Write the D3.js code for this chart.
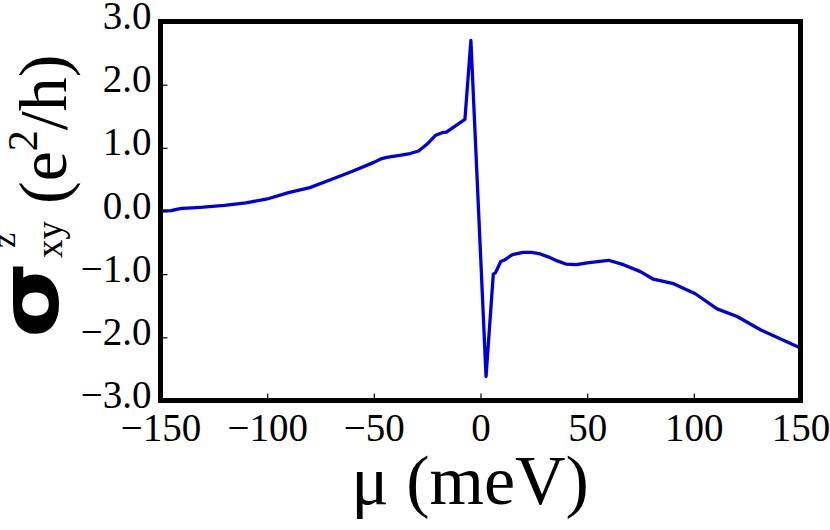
<!DOCTYPE html>
<html><head><meta charset="utf-8">
<script src="https://cdn.jsdelivr.net/npm/d3@7/dist/d3.min.js"></script>
<style>body{margin:0;background:#fff}svg{display:block}</style>
</head><body><svg id="c" width="830" height="530"></svg>
<script>
const mu = [-150,-145,-142,-140,-135,-130,-120,-110,-100,-90,-80,-70,-60,-50,-47,-44,-38,-33,-29,-25,-21,-18,-16,-7.3,-4.5,2.6,6.0,7.0,9.5,11,15,20,24,28,32,36,40,45,50,60,67,75,81,90.5,100.7,110.9,120.3,131.2,150];
const sigma = [0.00,0.005,0.03,0.04,0.05,0.06,0.09,0.13,0.19,0.29,0.37,0.50,0.63,0.77,0.82,0.85,0.88,0.91,0.95,1.06,1.20,1.24,1.25,1.45,2.70,-2.62,-1.00,-0.98,-0.80,-0.78,-0.69,-0.655,-0.655,-0.68,-0.73,-0.79,-0.84,-0.85,-0.82,-0.78,-0.85,-0.96,-1.08,-1.15,-1.31,-1.55,-1.67,-1.88,-2.17];
const xTicks = [-150,-100,-50,0,50,100,150];
const yTicks = [-3,-2,-1,0,1,2,3];

const L=160.5, R=800.5, T=21.5, B=400.5;
const svg = d3.select("#c");
const x = d3.scaleLinear().domain([-150,150]).range([L,R]);
const y = d3.scaleLinear().domain([-3,3]).range([B,T]);
const fmtMinus = s => s.replace("-", "\u2212");

const line = d3.line().x((d,i)=>x(mu[i])).y(d=>y(d));
svg.append("path").datum(sigma).attr("d", line)
  .attr("fill","none").attr("stroke","#0000dc").attr("stroke-width",3.3)
  .attr("stroke-linejoin","round");

const xa = svg.append("g").attr("transform",`translate(0,${B})`)
  .call(d3.axisBottom(x).tickValues(xTicks).tickSizeInner(-7).tickSizeOuter(0).tickPadding(12)
  .tickFormat(d=>fmtMinus(d3.format("d")(d))));
const ya = svg.append("g").attr("transform",`translate(${L},0)`)
  .call(d3.axisLeft(y).tickValues(yTicks).tickSizeInner(-7).tickSizeOuter(0).tickPadding(9)
  .tickFormat(d=>fmtMinus(d3.format(".1f")(d))));
[xa,ya].forEach(a=>{
  a.select(".domain").remove();
  a.selectAll(".tick line").attr("stroke","#000").attr("stroke-width",1.2);
  a.selectAll(".tick text").attr("fill","#000")
    .style("font-family","'Liberation Serif','Times New Roman',serif").style("font-size","39px");
});
xa.selectAll(".tick text").attr("dy",null).attr("y",40);
ya.selectAll(".tick text").attr("dy",null).attr("y",7);

svg.append("rect").attr("x",L).attr("y",T).attr("width",R-L).attr("height",B-T)
  .attr("fill","none").attr("stroke","#000").attr("stroke-width",5);

// x label
const xl = svg.append("text").attr("x",470).attr("y",504).attr("text-anchor","middle")
  .style("font-family","'Liberation Serif',serif").style("font-size","70px").attr("fill","#000");
xl.append("tspan").text("\u03bc");
xl.append("tspan").text(" (meV)");

// y label
const g = svg.append("g").attr("transform","translate(62,338) rotate(-90)");
g.append("text").attr("transform","translate(0,-4) scale(1.2,1)")
  .style("font-family","'DejaVu Sans',sans-serif").style("font-weight","bold").style("font-size","82px")
  .text("\u03c3");
g.append("text").attr("x",90).attr("y",-47)
  .style("font-family","'Liberation Serif',serif").style("font-size","34px").text("z");
g.append("text").attr("x",80).attr("y",0)
  .style("font-family","'Liberation Serif',serif").style("font-size","37px").text("xy");
const yl = g.append("text").attr("x",134).attr("y",4)
  .style("font-family","'Liberation Serif',serif").style("font-size","68px");
yl.append("tspan").text("(e");
yl.append("tspan").attr("dy",-29).style("font-size","42px").text("2");
yl.append("tspan").attr("dy",29).text("/h)");
</script></body></html>
